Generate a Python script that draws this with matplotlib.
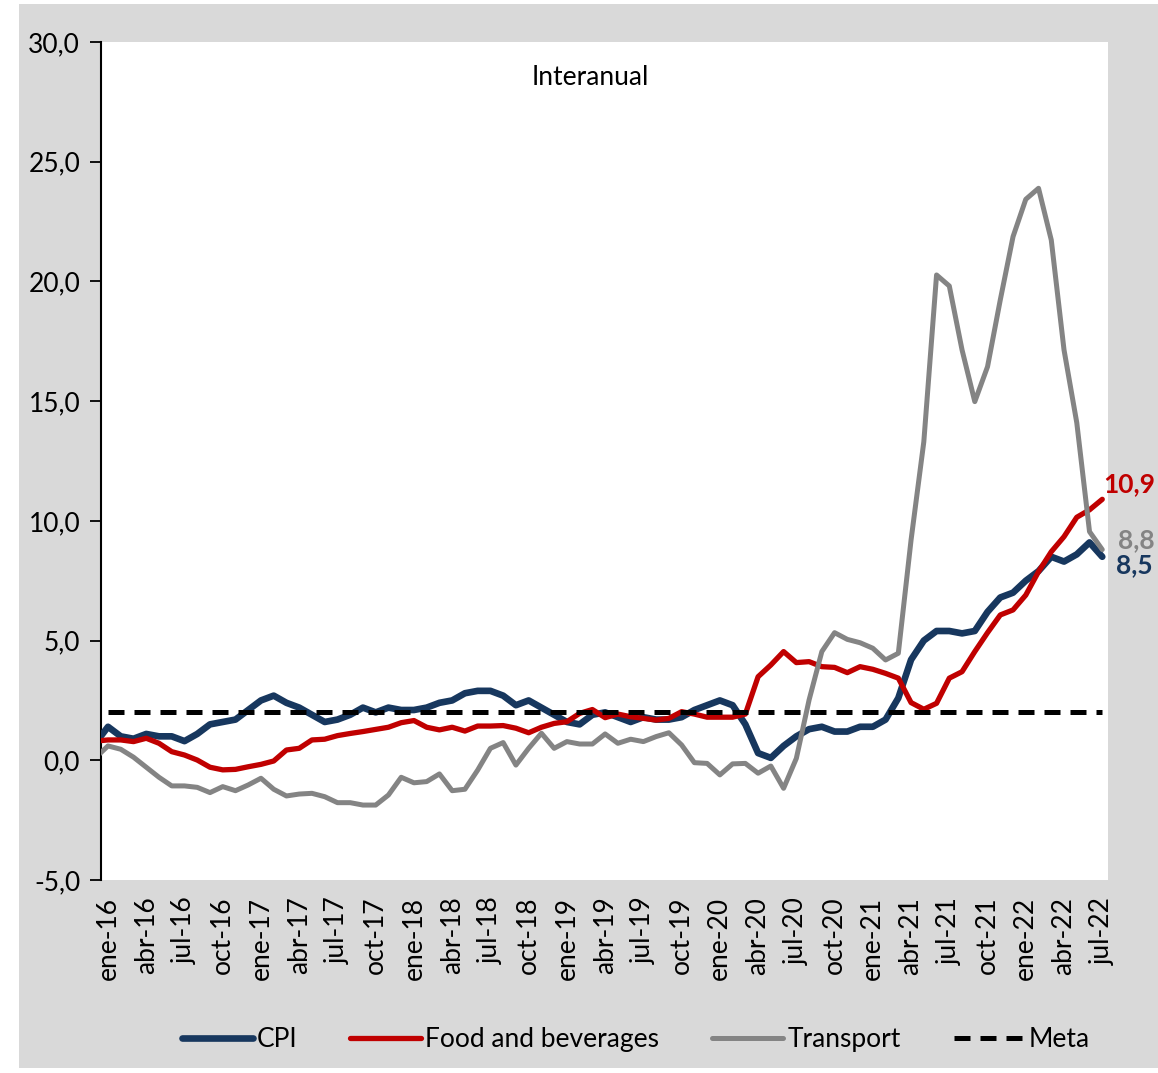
import matplotlib
matplotlib.use("Agg")
import matplotlib.pyplot as plt
from matplotlib.patches import Rectangle
from matplotlib.lines import Line2D

plt.rcParams['font.family'] = ['Lato', 'DejaVu Sans']

# Monthly categories: dic-15 (clipped at the left edge) then ene-16 .. jul-22
months_es = ['ene', 'feb', 'mar', 'abr', 'may', 'jun', 'jul', 'ago', 'sep', 'oct', 'nov', 'dic']
categories = ['dic-15'] + [f"{m}-{y}" for y in range(16, 23) for m in months_es][:79]

cpi = [0.7,
       1.4, 1.0, 0.9, 1.1, 1.0, 1.0, 0.8, 1.1, 1.5, 1.6, 1.7, 2.1,
       2.5, 2.7, 2.4, 2.2, 1.9, 1.6, 1.7, 1.9, 2.2, 2.0, 2.2, 2.1,
       2.1, 2.2, 2.4, 2.5, 2.8, 2.9, 2.9, 2.7, 2.3, 2.5, 2.2, 1.9,
       1.6, 1.5, 1.9, 2.0, 1.8, 1.6, 1.8, 1.7, 1.7, 1.8, 2.1, 2.3,
       2.5, 2.3, 1.5, 0.3, 0.1, 0.6, 1.0, 1.3, 1.4, 1.2, 1.2, 1.4,
       1.4, 1.7, 2.6, 4.2, 5.0, 5.4, 5.4, 5.3, 5.4, 6.2, 6.8, 7.0,
       7.5, 7.9, 8.5, 8.3, 8.6, 9.1, 8.5]

food = [0.8,
        0.85, 0.85, 0.78, 0.92, 0.71, 0.36, 0.22, 0.01, -0.29, -0.40, -0.38, -0.27,
        -0.17, -0.03, 0.43, 0.50, 0.85, 0.88, 1.03, 1.12, 1.20, 1.29, 1.38, 1.57,
        1.66, 1.38, 1.27, 1.38, 1.22, 1.43, 1.43, 1.45, 1.34, 1.15, 1.38, 1.54,
        1.61, 1.96, 2.12, 1.78, 1.93, 1.82, 1.75, 1.68, 1.75, 2.03, 1.93, 1.80,
        1.80, 1.80, 1.93, 3.49, 3.98, 4.54, 4.08, 4.12, 3.91, 3.88, 3.66, 3.91,
        3.80, 3.63, 3.43, 2.41, 2.13, 2.38, 3.43, 3.70, 4.54, 5.33, 6.07, 6.28,
        6.90, 7.88, 8.71, 9.34, 10.15, 10.46, 10.9]

transport = [0.1,
             0.60, 0.46, 0.13, -0.29, -0.71, -1.07, -1.07, -1.13, -1.35, -1.10, -1.27, -1.03,
             -0.75, -1.21, -1.49, -1.41, -1.38, -1.52, -1.77, -1.77, -1.87, -1.87, -1.45, -0.71,
             -0.94, -0.89, -0.57, -1.27, -1.21, -0.41, 0.50, 0.74, -0.20, 0.50, 1.13, 0.50,
             0.78, 0.68, 0.68, 1.10, 0.71, 0.88, 0.78, 0.99, 1.15, 0.64, -0.10, -0.13,
             -0.61, -0.15, -0.13, -0.54, -0.24, -1.17, 0.08, 2.52, 4.54, 5.33, 5.05, 4.91,
             4.68, 4.19, 4.47, 9.2, 13.3, 20.27, 19.81, 17.14, 14.98, 16.44, 19.23, 21.87,
             23.43, 23.89, 21.73, 17.14, 14.1, 9.55, 8.8]

meta = 2.0

yticks = [-5, 0, 5, 10, 15, 20, 25, 30]
end_labels = ['10,9', '8,8', '8,5']

C_CPI = '#17375E'
C_FOOD = '#C00000'
C_TRANS = '#848484'
DASH = (0, (3.2, 2.0))

fig = plt.figure(figsize=(11.58, 10.73), dpi=100, facecolor='white')
fig.patches.append(Rectangle((19 / 1158, 1 - 1068 / 1073), 1 - 19 / 1158, (1068 - 4) / 1073,
                             transform=fig.transFigure, facecolor='#D9D9D9',
                             edgecolor='none', zorder=-10))

ax = fig.add_axes([101 / 1158, 1 - 880 / 1073, (1108 - 101) / 1158, (880 - 42) / 1073])
ax.set_facecolor('white')

x = list(range(-1, len(cpi) - 1))
l1, = ax.plot(x, cpi, color=C_CPI, lw=4.8, solid_joinstyle='round', solid_capstyle='round',
              label='CPI', zorder=3)
l2, = ax.plot(x, food, color=C_FOOD, lw=3.8, solid_joinstyle='round', solid_capstyle='round',
              label='Food and beverages', zorder=4)
l3, = ax.plot(x, transport, color=C_TRANS, lw=3.6, solid_joinstyle='round', solid_capstyle='round',
              label='Transport', zorder=5)
last = len(cpi) - 2
ax.hlines(meta, 0, last, colors='black', linestyles=DASH, lw=3.6, label='Meta', zorder=6)

ax.set_xlim(-0.55, last + 0.45)
ax.set_ylim(-5, 30)
ax.set_yticks(yticks)
ax.set_yticklabels([f"{v:.1f}".replace('.', ',') for v in yticks], fontsize=19)
ax.tick_params(axis='y', direction='out', length=8, width=1.3, pad=7, colors='black')

tick_pos = list(range(0, last + 1, 3))
ax.set_xticks(tick_pos)
ax.set_xticklabels([categories[i + 1] for i in tick_pos], rotation=90, fontsize=19)
ax.tick_params(axis='x', length=0, pad=12)

for s in ['top', 'right', 'bottom']:
    ax.spines[s].set_visible(False)
ax.spines['left'].set_linewidth(1.5)

ax.text(0.4856, 0.958, 'Interanual', transform=ax.transAxes, ha='center', va='center',
        fontsize=19, color='black')

ax.annotate(end_labels[0], xy=(last, food[-1]), xytext=(1, 11), textcoords='offset points',
            ha='left', va='center', fontsize=19, fontweight='bold', color=C_FOOD,
            annotation_clip=False)
ax.annotate(end_labels[1], xy=(last, transport[-1]), xytext=(11, 7), textcoords='offset points',
            ha='left', va='center', fontsize=19, fontweight='bold', color=C_TRANS,
            annotation_clip=False)
ax.annotate(end_labels[2], xy=(last, cpi[-1]), xytext=(10, -6), textcoords='offset points',
            ha='left', va='center', fontsize=19, fontweight='bold', color=C_CPI,
            annotation_clip=False)

h4 = Line2D([], [], color='black', lw=3.6, linestyle=DASH)
fig.legend([l1, l2, l3, h4], ['CPI', 'Food and beverages', 'Transport', 'Meta'],
           loc='center', bbox_to_anchor=(0.549, 0.031), ncol=4, frameon=False,
           fontsize=19, handlelength=2.7, handletextpad=0.15, columnspacing=2.0)

fig.savefig('out.png', dpi=100, facecolor=fig.get_facecolor())
